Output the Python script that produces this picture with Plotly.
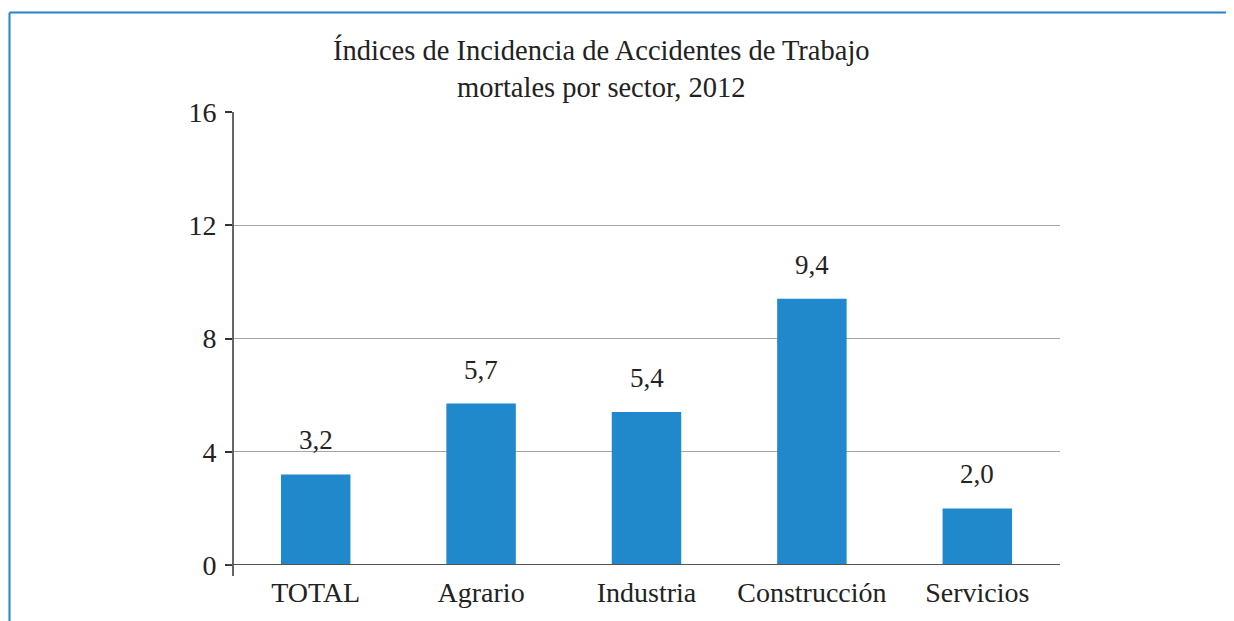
import plotly.graph_objects as go

categories = ["TOTAL", "Agrario", "Industria", "Construcción", "Servicios"]
values = [3.2, 5.7, 5.4, 9.4, 2.0]
y_ticks = [0, 4, 8, 12, 16]
title_lines = ["Índices de Incidencia de Accidentes de Trabajo", "mortales por sector, 2012"]

FONT = "Liberation Serif"
BAR_COLOR = "#1f89cb"
BORDER = "#2585c8"
TXT = "#222"

# page body adds an 8px offset; work in reference pixels and shift
OFF = 8
W, H = 1234, 621 - OFF
AX_L, AX_R, AX_T, AX_B = 233 - OFF, 1060 - OFF, 112 - OFF, 565 - OFF
L, R, T, B = AX_L, W - AX_R, AX_T, H - AX_B
pw, ph = AX_R - AX_L, AX_B - AX_T

def px_x(x):
    return (x - OFF - L) / pw

def px_y(y):
    return (AX_B - (y - OFF)) / ph

fig = go.Figure()
fig.add_trace(go.Bar(
    x=categories, y=values, marker_color=BAR_COLOR, marker_line_width=0,
    width=0.42, hoverinfo="skip",
))

for c, v in zip(categories, values):
    fig.add_annotation(
        x=c, y=v, text=f"{v:.1f}".replace(".", ","), showarrow=False,
        yanchor="bottom", yshift=17, font=dict(family=FONT, size=27, color=TXT),
    )

fig.add_annotation(
    xref="paper", yref="paper", x=px_x(601), y=px_y(69), xanchor="center", yanchor="middle",
    text="<br>".join(title_lines), showarrow=False,
    font=dict(family=FONT, size=28.5, color=TXT),
)

# frame lines (top and left)
fig.add_shape(type="line", xref="paper", yref="paper", x0=px_x(9.5), x1=px_x(1250),
              y0=px_y(12.5), y1=px_y(12.5), line=dict(color=BORDER, width=2))
fig.add_shape(type="line", xref="paper", yref="paper", x0=px_x(9.5), x1=px_x(9.5),
              y0=px_y(12.5), y1=px_y(640), line=dict(color=BORDER, width=2))
# y-axis line extending slightly below zero
fig.add_shape(type="line", xref="paper", yref="paper", x0=0, x1=0,
              y0=px_y(576), y1=1, line=dict(color="#333", width=1.5))
# x-axis baseline
fig.add_shape(type="line", xref="paper", yref="y", x0=px_x(227), x1=1,
              y0=0, y1=0, line=dict(color="#555", width=2))

fig.update_layout(
    width=W, height=H,
    margin=dict(l=L, r=R, t=T, b=B),
    paper_bgcolor="white", plot_bgcolor="white",
    showlegend=False,
    bargap=0.58,
    font=dict(family=FONT, size=28, color=TXT),
    xaxis=dict(
        showline=False, showgrid=False, ticks="",
        tickfont=dict(family=FONT, size=28, color=TXT),
        ticklabelstandoff=8,
    ),
    yaxis=dict(
        range=[0, 16], tickvals=y_ticks, ticktext=[str(t) for t in y_ticks],
        showgrid=True, gridcolor="#a6a6a6", gridwidth=1.2,
        showline=False, zeroline=False,
        ticks="outside", ticklen=7, tickcolor="#333", tickwidth=1.5,
        tickfont=dict(family=FONT, size=28, color=TXT),
        ticklabelstandoff=3,
    ),
)

fig.write_html("out.html")
